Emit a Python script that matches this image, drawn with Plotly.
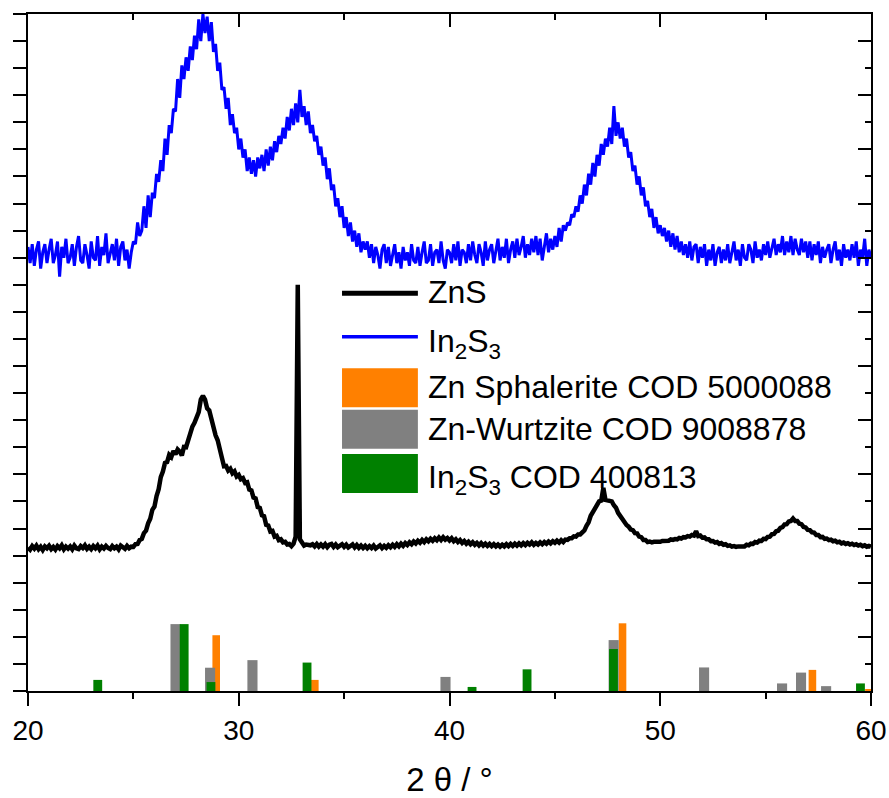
import numpy as np
import plotly.graph_objects as go

# ---------------- data ----------------
two_theta = np.round(np.linspace(20, 60, 401), 1).tolist()

in2s3_curve = [
    16.4, 15.8, 16.5, 15.7, 16.3, 16.6, 15.6, 16.2, 16.5, 15.8,
    16.3, 16.7, 15.8, 16.1, 16.6, 15.3, 16.4, 16.0, 16.7, 15.8,
    16.0, 16.5, 15.7, 16.4, 16.8, 15.9, 15.8, 16.5, 16.1, 15.6,
    16.6, 16.0, 15.9, 16.8, 15.7, 16.4, 16.1, 16.9, 15.8, 16.2,
    16.5, 15.9, 16.7, 15.7, 16.4, 16.6, 15.9, 16.3, 15.6, 16.2,
    16.6, 16.5, 17.3, 16.8, 17.0, 17.9, 17.1, 18.3, 17.5, 18.4,
    18.2, 19.1, 18.8, 19.6, 19.2, 20.4, 19.8, 20.9, 20.6, 21.5,
    21.4, 22.6, 21.9, 23.1, 22.6, 23.4, 22.9, 23.8, 23.3, 24.2,
    23.7, 24.8, 24.0, 25.0, 24.3, 24.9, 24.0, 24.7, 23.6, 23.9,
    22.9, 23.2, 22.2, 22.3, 21.5, 21.9, 20.9, 21.3, 20.6, 20.8,
    20.0, 20.4, 19.7, 20.0, 19.2, 19.7, 19.1, 19.6, 19.0, 19.7,
    19.3, 19.8, 19.2, 20.0, 19.4, 20.1, 19.6, 20.3, 19.9, 20.5,
    20.2, 20.8, 20.4, 21.2, 20.7, 21.5, 20.9, 21.7, 21.0, 22.2,
    21.2, 21.6, 20.9, 21.4, 20.6, 20.9, 20.3, 20.5, 19.8, 20.1,
    19.4, 19.7, 18.9, 19.3, 18.5, 18.7, 17.9, 18.2, 17.5, 17.9,
    17.1, 17.5, 16.8, 17.3, 16.6, 17.0, 16.4, 16.9, 16.2, 16.6,
    16.3, 16.6, 16.0, 16.5, 15.8, 16.4, 16.1, 15.6, 16.3, 16.5,
    15.8, 16.4, 15.7, 16.1, 16.5, 15.8, 16.2, 15.6, 16.4, 15.9,
    16.2, 15.7, 16.5, 15.9, 15.8, 16.4, 15.7, 16.2, 16.6, 15.8,
    15.9, 16.5, 15.7, 16.2, 16.3, 15.8, 16.6, 15.9, 15.6, 16.3,
    16.2, 15.8, 16.5, 15.9, 16.6, 15.7, 16.3, 16.2, 15.8, 16.5,
    15.9, 16.6, 16.1, 15.8, 16.5, 16.2, 15.7, 16.6, 15.9, 16.3,
    16.5, 15.8, 16.3, 16.7, 15.9, 16.4, 16.0, 16.7, 15.8, 16.3,
    16.6, 16.0, 16.7, 16.1, 16.4, 16.8, 16.0, 16.5, 16.1, 16.7,
    16.2, 16.8, 16.1, 16.7, 15.9, 16.5, 16.9, 16.2, 16.7, 16.3,
    16.8, 16.4, 17.1, 16.6, 17.2, 17.0, 17.3, 17.2, 17.6, 17.5,
    17.9, 17.7, 18.3, 18.0, 18.7, 18.3, 19.1, 18.7, 19.5, 19.0,
    19.8, 19.4, 20.2, 19.8, 20.4, 20.1, 20.8, 20.2, 21.6, 20.5,
    21.0, 20.4, 20.8, 20.1, 20.4, 19.7, 19.9, 19.2, 19.4, 18.7,
    19.0, 18.3, 18.6, 17.9, 18.1, 17.5, 17.8, 17.1, 17.5, 16.9,
    17.2, 16.8, 17.1, 16.6, 17.0, 16.4, 16.9, 16.3, 16.8, 16.2,
    16.6, 16.1, 16.5, 16.0, 16.6, 15.9, 16.4, 16.5, 15.8, 16.4,
    16.0, 16.5, 15.7, 16.3, 15.9, 16.5, 15.7, 16.2, 16.4, 15.8,
    16.3, 15.9, 16.5, 15.8, 16.2, 16.6, 15.9, 16.3, 15.7, 16.5,
    16.0, 15.9, 16.5, 16.3, 15.8, 16.6, 16.0, 16.3, 15.9, 16.5,
    16.1, 16.6, 16.0, 16.4, 16.7, 16.1, 16.5, 16.2, 16.8, 16.1,
    16.6, 16.2, 16.8, 16.1, 16.7, 16.3, 16.1, 16.7, 16.2, 16.6,
    16.0, 16.6, 15.9, 16.5, 16.1, 16.6, 15.8, 16.4, 16.0, 16.3,
    16.5, 15.8, 16.3, 16.6, 15.9, 16.3, 15.7, 16.5, 16.0, 16.3,
    15.9, 16.5, 16.0, 16.6, 15.7, 16.3, 16.0, 16.7, 15.7, 16.3,
    16.0,
]

zns_curve = [
    5.30, 5.22, 5.35, 5.26, 5.37, 5.24, 5.33, 5.21, 5.34, 5.27,
    5.36, 5.24, 5.32, 5.22, 5.35, 5.27, 5.38, 5.23, 5.33, 5.26,
    5.34, 5.23, 5.37, 5.27, 5.24, 5.35, 5.28, 5.38, 5.25, 5.33,
    5.24, 5.35, 5.27, 5.37, 5.23, 5.33, 5.26, 5.36, 5.28, 5.24,
    5.35, 5.27, 5.33, 5.23, 5.37, 5.28, 5.25, 5.36, 5.27, 5.33,
    5.32, 5.42, 5.43, 5.58, 5.62, 5.83, 5.92, 6.19, 6.36, 6.69,
    6.81, 7.20, 7.45, 7.90, 8.10, 8.42, 8.45, 8.72, 8.64, 8.86,
    8.74, 8.92, 8.84, 8.70, 9.01, 9.00, 9.27, 9.40, 9.76, 9.90,
    10.16, 10.30, 10.76, 10.90, 10.76, 10.44, 10.36, 10.04, 9.86, 9.44,
    9.26, 8.84, 8.61, 8.30, 8.31, 8.14, 8.21, 8.04, 8.11, 7.92,
    7.98, 7.82, 7.86, 7.69, 7.71, 7.44, 7.41, 7.14, 7.11, 6.79,
    6.76, 6.49, 6.46, 6.14, 6.11, 5.89, 5.91, 5.70, 5.73, 5.57,
    5.60, 5.49, 5.51, 5.41, 5.43, 5.35, 5.44, 5.70, 15.00, 5.60,
    5.47, 5.37, 5.41, 5.39, 5.38, 5.42, 5.34, 5.43, 5.33, 5.41,
    5.33, 5.42, 5.31, 5.40, 5.43, 5.32, 5.41, 5.31, 5.39, 5.42,
    5.32, 5.40, 5.30, 5.38, 5.41, 5.30, 5.39, 5.29, 5.37, 5.28,
    5.36, 5.27, 5.35, 5.28, 5.37, 5.26, 5.34, 5.38, 5.28, 5.36,
    5.29, 5.38, 5.31, 5.40, 5.32, 5.42, 5.34, 5.44, 5.36, 5.46,
    5.39, 5.49, 5.42, 5.52, 5.45, 5.55, 5.48, 5.58, 5.50, 5.60,
    5.53, 5.62, 5.55, 5.64, 5.57, 5.67, 5.58, 5.68, 5.59, 5.65,
    5.56, 5.64, 5.53, 5.60, 5.50, 5.57, 5.47, 5.54, 5.44, 5.51,
    5.42, 5.49, 5.40, 5.47, 5.38, 5.46, 5.37, 5.44, 5.36, 5.43,
    5.35, 5.42, 5.34, 5.41, 5.33, 5.40, 5.34, 5.42, 5.35, 5.43,
    5.36, 5.44, 5.37, 5.45, 5.38, 5.46, 5.39, 5.47, 5.41, 5.49,
    5.40, 5.47, 5.41, 5.49, 5.42, 5.50, 5.44, 5.52, 5.45, 5.53,
    5.47, 5.55, 5.48, 5.57, 5.50, 5.59, 5.58, 5.64, 5.64, 5.71,
    5.70, 5.78, 5.78, 5.88, 5.93, 6.10, 6.23, 6.47, 6.60, 6.80,
    6.88, 7.00, 7.03, 7.50, 7.06, 7.04, 7.04, 7.00, 6.86, 6.77,
    6.58, 6.47, 6.30, 6.24, 6.13, 6.07, 5.96, 5.94, 5.83, 5.82,
    5.70, 5.68, 5.58, 5.58, 5.50, 5.52, 5.49, 5.51, 5.50, 5.52,
    5.51, 5.54, 5.53, 5.56, 5.55, 5.60, 5.58, 5.61, 5.60, 5.65,
    5.63, 5.68, 5.67, 5.72, 5.70, 5.76, 5.74, 5.90, 5.72, 5.74,
    5.66, 5.67, 5.60, 5.60, 5.53, 5.54, 5.48, 5.50, 5.43, 5.46,
    5.40, 5.42, 5.36, 5.38, 5.33, 5.35, 5.32, 5.34, 5.33, 5.36,
    5.34, 5.40, 5.38, 5.44, 5.43, 5.50, 5.48, 5.55, 5.54, 5.62,
    5.61, 5.69, 5.70, 5.79, 5.80, 5.90, 5.92, 6.02, 6.05, 6.15,
    6.16, 6.26, 6.28, 6.37, 6.28, 6.28, 6.18, 6.16, 6.06, 6.04,
    5.95, 5.94, 5.86, 5.85, 5.76, 5.76, 5.68, 5.69, 5.62, 5.63,
    5.57, 5.59, 5.53, 5.55, 5.49, 5.51, 5.45, 5.48, 5.43, 5.46,
    5.41, 5.44, 5.39, 5.42, 5.37, 5.40, 5.35, 5.38, 5.33, 5.36,
    5.33,
]

sphalerite_pos = [28.93, 33.61, 48.21, 57.22, 59.90]
sphalerite_int = [2.06, 0.41, 2.50, 0.78, 0.05]

wurtzite_pos = [27.00, 28.64, 30.65, 39.81, 47.79, 52.08, 55.78, 56.68, 57.87]
wurtzite_int = [2.47, 0.86, 1.14, 0.52, 1.88, 0.87, 0.28, 0.68, 0.18]

in2s3_ref_pos = [23.31, 27.41, 28.68, 33.24, 41.07, 43.68, 47.78, 59.50]
in2s3_ref_int = [0.41, 2.47, 0.33, 1.05, 0.15, 0.80, 1.55, 0.28]

x_ticks = [20, 30, 40, 50, 60]

names = ["ZnS", "In<sub>2</sub>S<sub>3</sub>", "Zn Sphalerite COD 5000088",
         "Zn-Wurtzite COD 9008878", "In<sub>2</sub>S<sub>3</sub> COD 400813"]
colors = ["#000000", "#0000FF", "#FF8000", "#808080", "#008000"]

FONT = "Liberation Sans, Arial, Helvetica, sans-serif"

fig = go.Figure()

fig.add_trace(go.Bar(x=sphalerite_pos, y=sphalerite_int, width=0.36, name=names[2],
                     marker=dict(color=colors[2], line=dict(width=0)), showlegend=False))
fig.add_trace(go.Bar(x=wurtzite_pos, y=wurtzite_int, width=0.48, name=names[3],
                     marker=dict(color=colors[3], line=dict(width=0)), showlegend=False))
fig.add_trace(go.Bar(x=in2s3_ref_pos, y=in2s3_ref_int, width=0.42, name=names[4],
                     marker=dict(color=colors[4], line=dict(width=0)), showlegend=False))

fig.add_trace(go.Scatter(x=two_theta, y=zns_curve, mode="lines", name=names[0],
                         line=dict(color=colors[0], width=4.5), showlegend=False))
fig.add_trace(go.Scatter(x=two_theta, y=in2s3_curve, mode="lines", name=names[1],
                         line=dict(color=colors[1], width=3), showlegend=False))

# ---------------- hand-built legend ----------------
lx0, lx1, tx = 34.9, 38.5, 38.9
shapes = [
    dict(type="line", xref="x", yref="y", x0=lx0, x1=lx1, y0=14.69, y1=14.69,
         line=dict(color=colors[0], width=5)),
    dict(type="line", xref="x", yref="y", x0=lx0, x1=lx1, y0=13.08, y1=13.08,
         line=dict(color=colors[1], width=3.5)),
    dict(type="rect", xref="x", yref="y", x0=lx0, x1=lx1, y0=10.48, y1=11.92,
         line=dict(width=0), fillcolor=colors[2]),
    dict(type="rect", xref="x", yref="y", x0=lx0, x1=lx1, y0=8.95, y1=10.39,
         line=dict(width=0), fillcolor=colors[3]),
    dict(type="rect", xref="x", yref="y", x0=lx0, x1=lx1, y0=7.31, y1=8.75,
         line=dict(width=0), fillcolor=colors[4]),
]
label_y = [14.73, 12.85, 11.22, 9.66, 7.82]
annotations = []
for nm, yy in zip(names, label_y):
    annotations.append(dict(x=tx, y=yy, xref="x", yref="y", text=nm, showarrow=False,
                            xanchor="left", yanchor="middle",
                            font=dict(family=FONT, size=32, color="black")))

fig.update_layout(
    width=889, height=798,
    margin=dict(l=28, r=18, t=14, b=107, autoexpand=False),
    paper_bgcolor="white", plot_bgcolor="white",
    barmode="overlay",
    shapes=shapes, annotations=annotations,
    showlegend=False,
    font=dict(family=FONT, color="black"),
    xaxis=dict(range=[20, 60], tickvals=x_ticks, ticks="outside", ticklen=13, tickwidth=2,
               tickcolor="black", showline=True, linewidth=2, linecolor="black", mirror=True,
               showgrid=False, zeroline=False, automargin=False,
               tickfont=dict(family=FONT, size=28, color="black"),
               minor=dict(dtick=5, ticks="outside", ticklen=6, tickwidth=2, tickcolor="black",
                          showgrid=False),
               title=dict(text="2 θ / °", font=dict(family=FONT, size=33, color="black"),
                          standoff=24)),
    xaxis2=dict(range=[20, 60], overlaying="x", side="top", anchor="y", tickvals=x_ticks,
                ticks="inside", ticklen=13, tickwidth=2, tickcolor="black", automargin=False,
                showticklabels=False, showgrid=False, zeroline=False, showline=False,
                minor=dict(dtick=5, ticks="inside", ticklen=6, tickwidth=2, tickcolor="black",
                           showgrid=False)),
    yaxis=dict(range=[0, 25], dtick=1, ticks="outside", ticklen=13, tickwidth=2,
               tickcolor="black", showticklabels=False, showline=True, linewidth=2,
               linecolor="black", mirror=True, showgrid=False, zeroline=False,
               automargin=False),
    yaxis2=dict(range=[0, 25], overlaying="y", side="right", anchor="x", dtick=2,
                ticks="inside", ticklen=13, tickwidth=2, tickcolor="black", automargin=False,
                showticklabels=False, showgrid=False, zeroline=False, showline=False,
                minor=dict(dtick=1, ticks="inside", ticklen=6, tickwidth=2, tickcolor="black",
                           showgrid=False)),
)

# invisible helper trace so the mirrored (top / right) axes are rendered
fig.add_trace(go.Scatter(x=[20], y=[0], xaxis="x2", yaxis="y2", mode="markers",
                         marker=dict(opacity=0), showlegend=False, hoverinfo="skip"))

fig.write_html("out.html")
